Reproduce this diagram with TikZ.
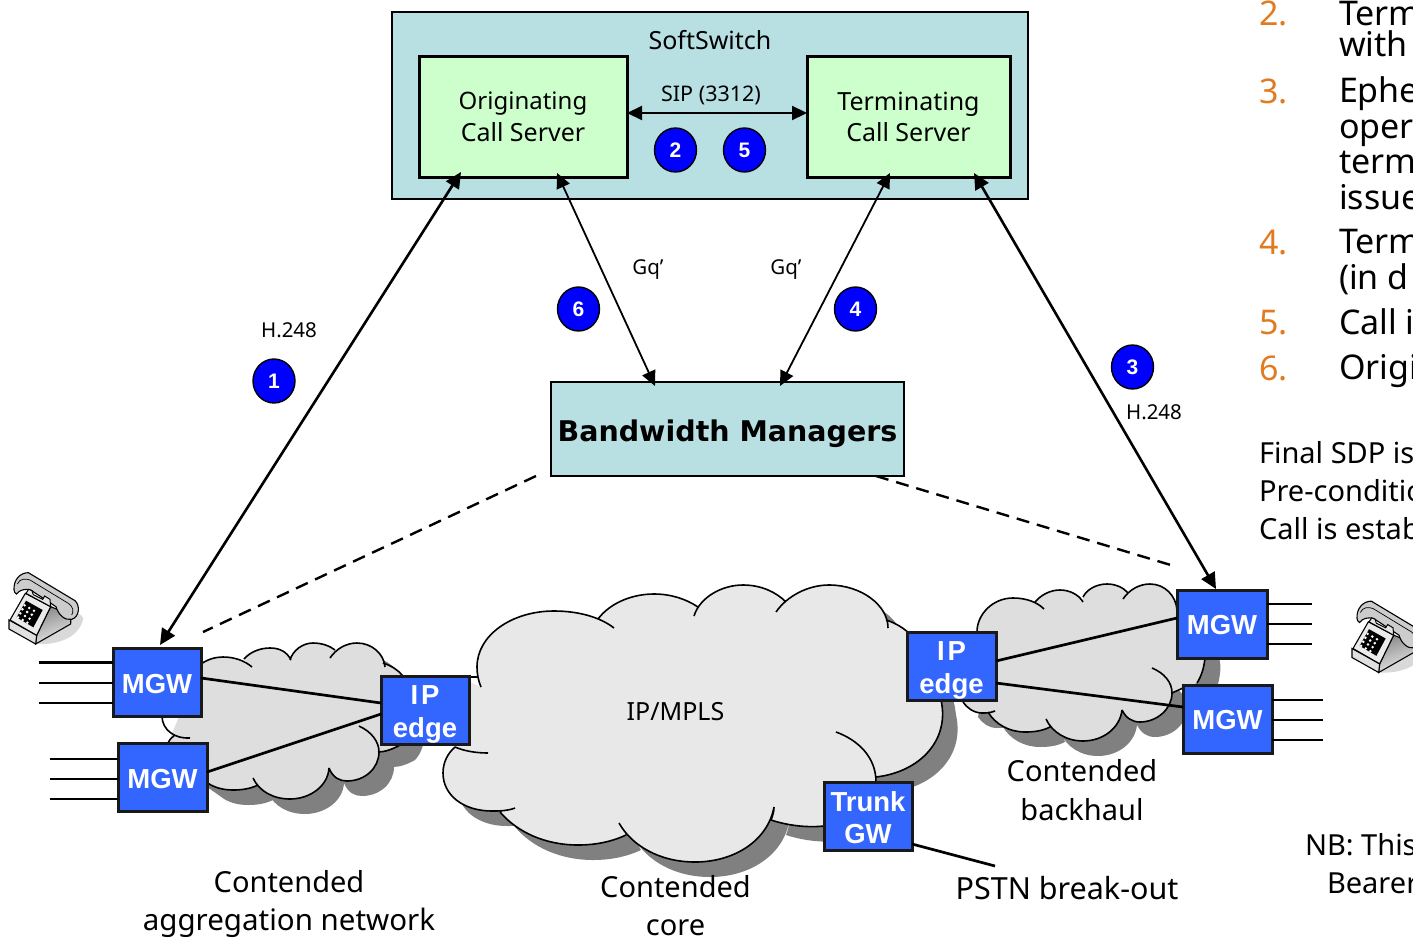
\documentclass[tikz,border=0pt]{standalone}
\usepackage{fontspec}
\usetikzlibrary{arrows.meta,shapes.geometric,calc}
\setmainfont{Noto Sans}
\newfontfamily\boxfont{Liberation Sans}
\newfontfamily\bmfont{DejaVu Sans}
\definecolor{teal1}{HTML}{B8E0E3}
\definecolor{green1}{HTML}{CCFFCC}
\definecolor{blue1}{HTML}{3366FF}
\definecolor{orange1}{HTML}{E07B20}
\newcommand{\fs}[1]{\fontsize{#1}{#1}\selectfont}
\newcommand{\lowered}[2]{\raisebox{-#1}[\height][\depth]{#2}}
% clouds: lobes
\def\coreA{(481,687) .. controls (478,680) and (477,673) .. (477,667) .. controls (477,635) and (512,611) .. (554,611) .. controls (578,611) and (600,617) .. (614,628)}
\def\coreB{(598,619) .. controls (610,603) and (632,594) .. (654,594) .. controls (671,594) and (686,599) .. (698,607)}
\def\coreC{(694,616) .. controls (700,597) and (722,585) .. (743,585) .. controls (761,585) and (776,592) .. (786,602)}
\def\coreD{(776,612) .. controls (787,596) and (808,585) .. (829,585) .. controls (861,585) and (888,605) .. (888,628)}
\def\coreE{(886,620) .. controls (918,630) and (937,665) .. (941,700) .. controls (950,740) and (920,772) .. (876,777)}
\def\coreF{(836,732) .. controls (858,740) and (876,757) .. (876,782) .. controls (876,800) and (850,826) .. (824,826) .. controls (806,828) and (786,825) .. (771,820) .. controls (773,815) and (774,811) .. (774,807)}
\def\coreG{(774,807) .. controls (768,840) and (735,862) .. (695,862) .. controls (660,862) and (632,846) .. (619,823)}
\def\coreH{(626,835) .. controls (611,842) and (595,845) .. (578,845) .. controls (545,845) and (517,832) .. (500,812)}
\def\coreI{(515,808) .. controls (507,811) and (500,811) .. (492,811) .. controls (463,811) and (443,795) .. (443,773) .. controls (443,762) and (448,753) .. (455,747)}
\def\coreJ{(455,747) .. controls (464,751) and (476,753) .. (488,753)}
\def\coreK{(470,677) -- (477,677)}
\def\aggA{(201,664) .. controls (208,659) and (216,657) .. (223,657) .. controls (235,657) and (245,661) .. (252,667)}
\def\aggB{(244,659) .. controls (250,652) and (260,648) .. (270,648) .. controls (280,648) and (287,652) .. (291,660)}
\def\aggC{(290,660) .. controls (293,650) and (303,643) .. (313,643) .. controls (322,643) and (330,646) .. (335,650)}
\def\aggD{(330,658) .. controls (336,649) and (346,643) .. (357,643) .. controls (372,643) and (384,654) .. (385,667)}
\def\aggE{(383,663) .. controls (392,666) and (398,670) .. (403,676) .. controls (412,690) and (415,730) .. (400,745) .. controls (393,749) and (385,752) .. (378,752)}
\def\aggF{(359,726) .. controls (372,732) and (379,742) .. (379,752) .. controls (379,768) and (365,781) .. (347,781) .. controls (340,781) and (333,778) .. (329,768)}
\def\aggG{(329,768) .. controls (328,786) and (310,799) .. (290,799) .. controls (273,799) and (259,791) .. (253,778)}
\def\aggH{(258,785) .. controls (250,789) and (241,790) .. (233,790) .. controls (222,790) and (212,787) .. (205,781) .. controls (190,770) and (170,760) .. (168,743)}
\def\aggI{(168,743) .. controls (170,739) and (172,737) .. (175,735)}
\def\aggJ{(190,738) .. controls (175,739) and (162,730) .. (162,716)}
\def\backA{(977,632) .. controls (977,614) and (993,598) .. (1013,598) .. controls (1026,598) and (1037,602) .. (1044,609)}
\def\backB{(1035,602) .. controls (1041,595) and (1050,590) .. (1060,590) .. controls (1070,590) and (1079,595) .. (1083,602)}
\def\backC{(1083,597) .. controls (1087,589) and (1097,584) .. (1107,584) .. controls (1116,584) and (1124,588) .. (1128,593)}
\def\backD{(1123,599) .. controls (1129,590) and (1139,584) .. (1150,584) .. controls (1165,584) and (1176,596) .. (1177,610)}
\def\backE{(1177,610) .. controls (1195,620) and (1208,640) .. (1205,658) .. controls (1204,667) and (1202,675) .. (1197,683)}
\def\backF{(1183,688) .. controls (1179,690) and (1176,691) .. (1172,693)}
\def\backG{(1152,668) .. controls (1164,673) and (1172,682) .. (1172,693) .. controls (1172,709) and (1157,722) .. (1140,722) .. controls (1132,722) and (1126,718) .. (1122,710)}
\def\backH{(1122,710) .. controls (1120,728) and (1103,741) .. (1083,741) .. controls (1066,741) and (1052,732) .. (1046,719)}
\def\backI{(1050,727) .. controls (1042,731) and (1034,732) .. (1025,732) .. controls (1009,732) and (995,724) .. (988,712)}
\def\backJ{(995,711) .. controls (990,713) and (986,713) .. (982,713) .. controls (974,713) and (967,708) .. (963,702)}
\tikzset{
  x=1pt,y=-1pt,
  cloudline/.style={draw=black,line width=1.6pt},
  cloudshadow/.style={fill=black!50},
  wire/.style={draw=black,line width=2.7pt},
  gwbox/.style={draw=black!90,line width=3pt,fill=blue1,text=white,inner sep=0pt,outer sep=0pt,align=center,
     font=\boxfont\bfseries\fs{27.5},minimum height=68pt},
  gwtext/.style={inner sep=0pt,outer sep=0pt,align=center,text=white,font=\boxfont\bfseries\fs{27.5}},
  graybox/.style={draw=black,line width=2.4pt,fill=teal1,inner sep=0pt,outer sep=0pt},
  srvbox/.style={draw=black,line width=3pt,fill=green1,inner sep=0pt,outer sep=0pt,minimum width=205pt,minimum height=121pt},
  txt/.style={inner sep=0pt,outer sep=0pt,align=center},
  big/.style={txt,font=\fs{29}},
  med/.style={txt,font=\fs{25}},
  small/.style={txt,font=\fs{20.5}},
  listnum/.style={inner sep=0pt,outer sep=0pt,anchor=base west,text=orange1,font=\fs{34}},
  listtxt/.style={inner sep=0pt,outer sep=0pt,anchor=base west,font=\fs{34}},
  notetxt/.style={inner sep=0pt,outer sep=0pt,anchor=base west,font=\fs{29}},
  badge/.style={ellipse,draw=black,line width=1.4pt,fill=blue!100,text=white,inner sep=0pt,outer sep=0pt,
     minimum width=42pt,minimum height=44pt,font=\boxfont\bfseries\fs{21}},
  thickarrow/.style={draw=black,line width=2.6pt,{Triangle[length=16pt,width=15pt]}-{Triangle[length=16pt,width=15pt]}},
  thinarrow/.style={draw=black,line width=1.8pt,{Triangle[length=15pt,width=14pt]}-{Triangle[length=15pt,width=14pt]}},
  dashline/.style={draw=black,line width=2.4pt,dash pattern=on 13pt off 8pt},
  phone/.pic={
    \begin{scope}[scale=1/3]
      \fill[black!15] (100,252) .. controls (150,256) and (235,245) .. (250,175) .. controls (245,160) and (225,155) .. (205,165) -- cycle;
      \path[draw=black,line width=1.1pt,left color=black!45,right color=black!8,shading angle=20]
        (110,226) -- (152,140) -- (213,165) -- (212,192) -- (107,252) -- cycle;
      \path[draw=black,line width=1.1pt,fill=black!12] (27,180) -- (27,207) -- (107,252) -- (110,226) -- cycle;
      \path[draw=black,line width=1.1pt,fill=black!8] (76,100) -- (152,140) -- (110,226) -- (30,180) -- cycle;
      \path[fill=black] (78,122) -- (128,150) -- (100,202) -- (50,172) -- cycle;
      \foreach \i in {0,1,2,3}{\foreach \j in {0,1,2}{
        \fill[white] ({74+\i*(-6.6)+\j*14},{136+\i*12+\j*8}) circle[radius=4.2];}}
      \path[draw=black,line width=1.1pt,fill=black!20]
        (42,90) .. controls (40,60) and (60,38) .. (85,38) -- (225,122) .. controls (240,135) and (240,170) .. (215,178)
        .. controls (195,182) and (175,165) .. (168,140) -- (92,90) .. controls (75,85) and (58,90) .. (50,102) .. controls (46,100) and (42,96) .. (42,90) -- cycle;
      \path[draw=black,line width=0.7pt] (52,72) .. controls (60,55) and (75,55) .. (90,60) -- (205,130) .. controls (220,140) and (222,155) .. (215,165);
      \path[draw=black,line width=1pt,fill=black!10] (78,100) -- (86,88) -- (96,92) -- (100,104) -- (128,118) -- (134,108) -- (150,118) -- (152,140) -- cycle;
    \end{scope}
  }
}
\begin{document}
\begin{tikzpicture}
\useasboundingbox (0,0) rectangle (1413,937);
\clip (0,0) rectangle (1413,937);
% ---- shadows and fills of side clouds
\begin{scope}[shift={(15,15)}]
  \fill[cloudshadow] \aggA -- \aggB -- \aggC -- \aggD -- \aggE -- \aggF -- \aggG -- \aggH -- cycle;
  \fill[cloudshadow] \backA -- \backB -- \backC -- \backD -- \backE -- \backG -- \backH -- \backI -- \backJ -- cycle;
\end{scope}
\fill[black!13] \aggA -- \aggB -- \aggC -- \aggD -- \aggE -- \aggF -- \aggG -- \aggH -- cycle;
\fill[black!13] \backA -- \backB -- \backC -- \backD -- \backE -- \backF -- \backG -- \backH -- \backI -- \backJ -- cycle;
\path[cloudline] \aggA \aggB \aggC \aggD \aggE \aggF \aggG \aggH \aggI \aggJ;
\path[cloudline] \backA \backB \backC \backD \backE \backF \backG \backH \backI \backJ;
% ---- core cloud
\begin{scope}[shift={(15,15)}]
  \fill[cloudshadow] \coreA -- \coreB -- \coreC -- \coreD -- \coreE -- \coreF -- \coreG -- \coreH -- \coreI -- cycle;
\end{scope}
\fill[black!9] \coreA -- \coreB -- \coreC -- \coreD -- \coreE -- \coreF -- \coreG -- \coreH -- \coreI -- (462,745) -- (465,680) -- cycle;
\path[cloudline] \coreA \coreB \coreC \coreD \coreE \coreF \coreG \coreH \coreI \coreJ \coreK;
% ---- boxes
\node[graybox,minimum width=636pt,minimum height=187pt] (ss) at (710,105.5) {};
\node[srvbox,minimum width=208pt] (orig) at (523,116.5) {};
\node[srvbox,minimum width=203pt] (term) at (908.5,116.5) {};
\node[graybox,minimum width=353pt,minimum height=94pt,font=\bmfont\bfseries\fs{28.5}] (bm) at (727.5,429) {\lowered{5pt}{Bandwidth Managers}};
\node[gwbox,minimum width=88pt] (mgwa) at (157,682) {\lowered{2pt}{MGW}};
\node[gwbox,minimum width=89pt] (mgwb) at (162.5,777.5) {\lowered{2pt}{MGW}};
\node[gwbox,minimum width=88pt] (ipl) at (425,710) {};
\node[gwbox,minimum width=89pt] (ipr) at (951.5,666) {};
\node[gwbox,minimum width=88pt] (trunk) at (868,816) {};
\node[gwbox,minimum width=90pt] (mgwc) at (1222,624) {\lowered{1pt}{MGW}};
\node[gwbox,minimum width=89pt] (mgwd) at (1227.5,719) {\lowered{1pt}{MGW}};
\node[gwtext] (tipl) at (425,714.5) {I\kern3pt P\\[5.5pt]edge};
\node[gwtext] (tipr) at (951.5,670.5) {I\kern3pt P\\[5.5pt]edge};
\node[gwtext] (ttrunk) at (868,817.5) {Trunk\\[4.5pt]GW};
% ---- wires
\draw[wire] ([yshift=4pt]mgwa.east) -- ([yshift=7pt]ipl.west);
\draw[wire] ([yshift=5.5pt]mgwb.east) -- ([yshift=-4pt]ipl.west);
\draw[wire] ([yshift=5pt]ipr.east) -- ([yshift=6pt]mgwc.west);
\draw[wire] ([yshift=-17pt]ipr.east) -- ([yshift=12pt]mgwd.west);
\foreach \yy in {662.5,683,703}{\coordinate (st) at (39,\yy); \draw[wire] (st) -- (st -| mgwa.west);}
\foreach \yy in {759,779,799}{\coordinate (st) at (50,\yy); \draw[wire] (st) -- (st -| mgwb.west);}
\foreach \yy in {604,624,644}{\coordinate (st) at (1312,\yy); \draw[wire] (st) -- (st -| mgwc.east);}
\foreach \yy in {700,720,740}{\coordinate (st) at (1323,\yy); \draw[wire] (st) -- (st -| mgwd.east);}
\coordinate (pstnend) at (995,866);
\draw[wire] ([yshift=-28pt]trunk.east) -- (pstnend);
% ---- arrows
\draw[thickarrow] ([shift={(3pt,3pt)}]mgwa.north) -- ([shift={(-62pt,5pt)}]orig.south);
\draw[thinarrow] ([shift={(34pt,4pt)}]orig.south) -- ([shift={(-72.5pt,-4pt)}]bm.north);
\draw[thinarrow] ([shift={(-18.5pt,4pt)}]term.south) -- ([shift={(52.5pt,-4pt)}]bm.north);
\draw[thickarrow] ([shift={(65.5pt,4pt)}]term.south) -- ([shift={(-6pt,1pt)}]mgwc.north);
\draw[thinarrow,line width=2.2pt] ([yshift=3.5pt]orig.east) -- ([yshift=3.5pt]term.west);
\draw[dashline] ([xshift=-191.5pt]bm.south) -- ([shift={(46pt,16pt)}]mgwa.north);
\draw[dashline] ([xshift=148.5pt]bm.south) -- ([shift={(-48pt,24pt)}]mgwc.north);
% ---- badges
\node[badge] (b1) at (274,381) {1};
\node[badge] (b2) at (675.5,150) {2};
\node[badge] (b5) at (744.5,150) {5};
\node[badge] (b6) at (578.5,309) {6};
\node[badge] (b4) at (855.5,309) {4};
\node[badge] (b3) at (1132.5,367) {3};
% ---- labels
\node[med] (tss) at (710,40) {SoftSwitch};
\node[med] (torig) at (523,117) {{\fs{24}Originating}\\[6.5pt]Call Server};
\node[med] (tterm) at (908.5,117) {Terminating\\[6.5pt]Call Server};
\node[small,font=\fs{21.5}] (tsip) at (711,95.5) {SIP (3312)};
\node[small] (th1) at (289,330) {H.248};
\node[small] (th2) at (1154,412) {H.248};
\node[small] (tg1) at (648,270) {Gq’};
\node[small] (tg2) at (786,270) {Gq’};
\node[med] (tmpls) at (675.5,712) {IP/MPLS};
\node[big] (tagg1) at (289,882) {Contended};
\node[big,font=\fs{29.5}] (tagg2) at (289,923) {aggregation network};
\node[big] (tcore1) at (675.5,887) {Contended};
\node[big] (tcore2) at (675.5,928) {core};
\node[big] (tback1) at (1082,771) {Contended};
\node[big] (tback2) at (1082,810) {backhaul};
\node[big,font=\fs{30.5}] (tpstn) at (1067,888) {PSTN break-out};
% ---- list on the right (cut by the edge of the picture)
\node[listnum] (n2) at (1259,25) {2.};
\node[listtxt] (l2a) at (1339,25) {Term};
\node[listtxt] (l2b) at (1339,56) {with};
\node[listnum] (n3) at (1259,103) {3.};
\node[listtxt] (l3a) at (1339,102) {Ephe};
\node[listtxt] (l3b) at (1339,138) {oper};
\node[listtxt] (l3c) at (1339,173) {term};
\node[listtxt] (l3d) at (1339,209) {issue};
\node[listnum] (n4) at (1259,254) {4.};
\node[listtxt] (l4a) at (1339,253) {Term};
\node[listtxt] (l4b) at (1339,289) {(in d};
\node[listnum] (n5) at (1259,334) {5.};
\node[listtxt] (l5) at (1339,334) {Call i};
\node[listnum] (n6) at (1259,380) {6.};
\node[listtxt] (l6) at (1339,379) {Origi};
\node[notetxt] (f1) at (1259,463) {Final SDP is};
\node[notetxt] (f2) at (1259,501) {Pre-conditio};
\node[notetxt] (f3) at (1259,539) {Call is estab};
\node[notetxt] (nb1) at (1305,855) {NB: This};
\node[notetxt] (nb2) at (1327,893) {Bearer};
% ---- phones
\pic at (0,560) {phone};
\pic at (1343,588.5) {phone};
\end{tikzpicture}
\end{document}
